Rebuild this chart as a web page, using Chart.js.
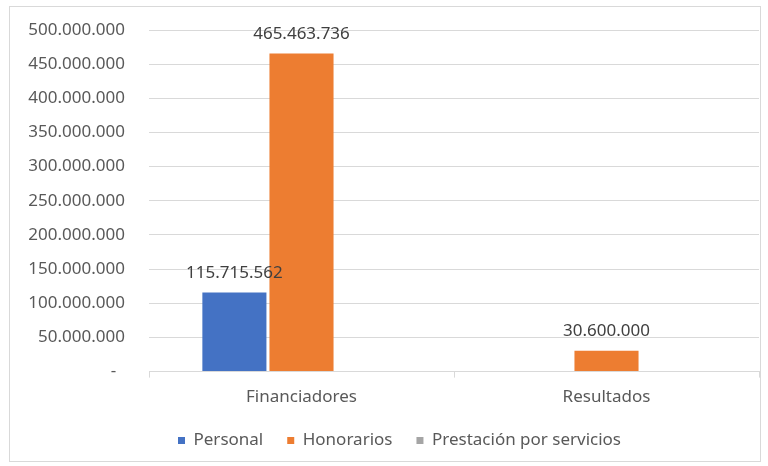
<!DOCTYPE html>
<html>
<head>
<meta charset="utf-8">
<script src="https://cdn.jsdelivr.net/npm/chart.js@4"></script>
<style>
  html, body { margin: 0; padding: 0; background: #fff; }
  #wrap { position: absolute; left: 9px; top: 6px; width: 750px; height: 454px; border: 1px solid #d9d9d9; }
</style>
</head>
<body>
<div id="wrap"><canvas id="chart"></canvas></div>
<script>
// ---- Data ----
const categories = ["Financiadores", "Resultados"];
const seriesNames = ["Personal", "Honorarios", "Prestación por servicios"];
const personal = [115715562, 0];
const honorarios = [465463736, 30600000];
const prestacion = [0, 0];
const seriesColors = ["#4472C4", "#ED7D31", "#A5A5A5"];

const FONT = "'Noto Sans', sans-serif";

function fmt(v) {
  if (v === 0) return "-";
  return Math.round(v).toString().replace(/\B(?=(\d{3})+(?!\d))/g, ".");
}

// ---- value labels above bars ----
const barLabels = {
  id: "barLabels",
  afterLayout(chart) {
    // legend sits a bit right of centre in the original
    chart.legend.left += 15;
    chart.legend.right += 15;
  },
  afterDatasetsDraw(chart) {
    const ctx = chart.ctx;
    ctx.save();
    ctx.font = "17px " + FONT;
    ctx.fillStyle = "#404040";
    ctx.textAlign = "center";
    ctx.textBaseline = "bottom";
    chart.data.datasets.forEach((ds, i) => {
      const meta = chart.getDatasetMeta(i);
      meta.data.forEach((bar, j) => {
        const v = ds.data[j];
        if (!v) return;
        ctx.fillText(fmt(v), bar.x, bar.y - 11);
      });
    });
    ctx.restore();
  }
};

new Chart(document.getElementById("chart"), {
  type: "bar",
  data: {
    labels: categories,
    datasets: [personal, honorarios, prestacion].map((d, i) => ({
      label: seriesNames[i],
      data: d,
      backgroundColor: seriesColors[i],
      categoryPercentage: 0.66,
      barPercentage: 0.955
    }))
  },
  options: {
    responsive: true,
    maintainAspectRatio: false,
    animation: false,
    layout: { padding: { top: 23, right: 1, left: 0, bottom: 2 } },
    plugins: {
      tooltip: { enabled: false },
      legend: {
        position: "bottom",
        labels: {
          usePointStyle: true,
          pointStyle: "rect",
          boxWidth: 7,
          boxHeight: 7,
          padding: 24,
          color: "#595959",
          font: { family: FONT, size: 17 }
        }
      }
    },
    scales: {
      x: {
        offset: true,
        afterFit(s) { s.height -= 8; },
        grid: { offset: true, drawOnChartArea: false, drawTicks: true, tickLength: 6, color: "#d9d9d9" },
        border: { color: "#d9d9d9" },
        ticks: { color: "#595959", font: { family: FONT, size: 17 }, padding: 9 }
      },
      y: {
        min: 0,
        max: 500000000,
        afterFit(s) { s.width = 139; },
        grid: { drawTicks: true, tickLength: 22, tickColor: "rgba(0,0,0,0)", color: "#d9d9d9" },
        border: { display: false },
        ticks: {
          stepSize: 50000000,
          padding: 2,
          color: "#595959",
          font: { family: FONT, size: 17 },
          callback: v => v === 0 ? "-  " : fmt(v)
        }
      }
    }
  },
  plugins: [barLabels]
});
</script>
</body>
</html>
